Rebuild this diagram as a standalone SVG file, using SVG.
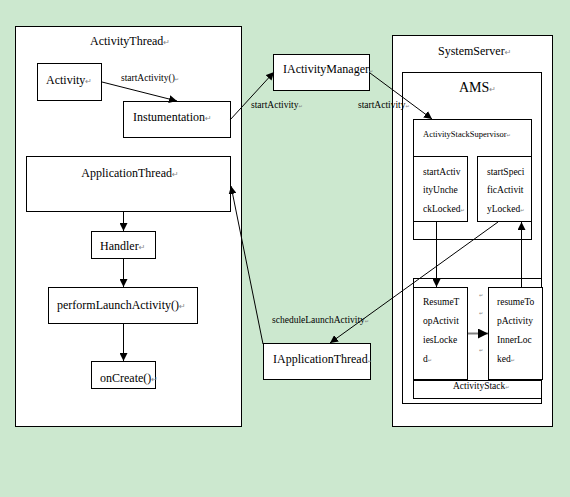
<svg xmlns="http://www.w3.org/2000/svg" width="570" height="497" viewBox="0 0 570 497">
<style>
.box{fill:#fff;stroke:#000;stroke-width:1}
.t{font-family:"Liberation Serif","Times New Roman",serif;font-size:12px;fill:#000}
.s{font-family:"Liberation Serif","Times New Roman",serif;font-size:9.5px;fill:#000}
.m{fill:#888;font-family:"DejaVu Sans",sans-serif;font-size:8px}
.ms{fill:#888;font-family:"DejaVu Sans",sans-serif;font-size:5px}
.ln{stroke:#000;stroke-width:1;fill:none}
</style>
<defs>
<marker id="ah" viewBox="0 0 10 10" refX="10" refY="5" markerWidth="8" markerHeight="8" markerUnits="userSpaceOnUse" orient="auto">
<path d="M0,0 L10,5 L0,10 z" fill="#000"/>
</marker>
<marker id="ahg" viewBox="0 0 10 10" refX="10" refY="5" markerWidth="5" markerHeight="5" orient="auto">
<path d="M0,0 L10,5 L0,10 z" fill="#000"/>
</marker>
</defs>
<rect x="0" y="0" width="570" height="497" fill="#CCE8CF"/>

<g id="activitythread">
<rect class="box" x="15.5" y="26.5" width="226" height="400"/>
<text class="t" x="130" y="45" text-anchor="middle">ActivityThread<tspan class="m">↵</tspan></text>
</g>
<g id="activity">
<rect class="box" x="37.5" y="63.5" width="64" height="37"/>
<text class="t" x="46" y="84">Activity<tspan class="m">↵</tspan></text>
</g>
<g id="instumentation">
<rect class="box" x="123.5" y="101.5" width="107" height="36"/>
<text class="t" x="133" y="121">Instumentation<tspan class="m">↵</tspan></text>
</g>
<g id="applicationthread">
<rect class="box" x="26.5" y="156.5" width="204" height="55"/>
<text class="t" x="130" y="177" text-anchor="middle">ApplicationThread<tspan class="m">↵</tspan></text>
</g>
<g id="handler">
<rect class="box" x="91.5" y="231.5" width="64" height="27"/>
<text class="t" x="100" y="250">Handler<tspan class="m">↵</tspan></text>
</g>
<g id="performlaunch">
<rect class="box" x="48.5" y="287.5" width="149" height="36"/>
<text class="t" x="57" y="309">performLaunchActivity()<tspan class="m">↵</tspan></text>
</g>
<g id="oncreate">
<rect class="box" x="91.5" y="361.5" width="64" height="27"/>
<text class="t" x="100" y="382">onCreate()<tspan class="m">↵</tspan></text>
</g>

<g id="iactivitymanager">
<rect class="box" x="273.5" y="54.5" width="96" height="36"/>
<text class="t" x="283" y="73">IActivityManager<tspan class="ms">↵</tspan></text>
</g>
<g id="iapplicationthread">
<rect class="box" x="263.5" y="343.5" width="107" height="36"/>
<text class="t" x="273" y="363">IApplicationThread<tspan class="ms">↵</tspan></text>
</g>

<g id="systemserver">
<rect class="box" x="392.5" y="35.5" width="160" height="391"/>
<text class="t" x="438" y="55">SystemServer<tspan class="m">↵</tspan></text>
</g>
<g id="ams">
<rect class="box" x="402.5" y="72.5" width="139" height="331"/>
<text class="t" x="459" y="92" style="font-size:14px">AMS<tspan class="m">↵</tspan></text>
</g>
<g id="activitystacksupervisor">
<rect class="box" x="413.5" y="119.5" width="118" height="120"/>
<text class="s" x="423" y="137" style="font-size:8.5px">ActivityStackSupervisor<tspan class="ms">↵</tspan></text>
</g>
<g id="startactivityunchecklocked">
<rect class="box" x="413.5" y="156.5" width="54" height="65"/>
<text class="s" x="423" y="175">startActiv</text>
<text class="s" x="423" y="193">ityUnche</text>
<text class="s" x="423" y="212">ckLocked<tspan class="ms">↵</tspan></text>
</g>
<g id="startspecificactivitylocked">
<rect class="box" x="477.5" y="156.5" width="54" height="65"/>
<text class="s" x="487" y="175">startSpeci</text>
<text class="s" x="487" y="193">ficActivit</text>
<text class="s" x="487" y="212">yLocked<tspan class="ms">↵</tspan></text>
</g>
<g id="activitystack">
<rect class="box" x="413.5" y="278.5" width="128" height="120"/>
<line class="ln" x1="413.5" y1="380.5" x2="541.5" y2="380.5"/>
<text class="s" x="453" y="389">ActivityStack<tspan class="ms">↵</tspan></text>
<text class="ms" x="479" y="297">↵</text>
<text class="ms" x="479" y="315">↵</text>
<text class="ms" x="479" y="352">↵</text>
</g>
<g id="resumetopactivitieslocked">
<rect class="box" x="413.5" y="287.5" width="54" height="92"/>
<text class="s" x="423" y="305">ResumeT</text>
<text class="s" x="423" y="324">opActivit</text>
<text class="s" x="423" y="343">iesLocke</text>
<text class="s" x="423" y="362">d<tspan class="ms">↵</tspan></text>
</g>
<g id="resumetopactivityinnerlocked">
<rect class="box" x="488.5" y="287.5" width="54" height="92"/>
<text class="s" x="497" y="305">resumeTo</text>
<text class="s" x="497" y="324">pActivity</text>
<text class="s" x="497" y="343">InnerLoc</text>
<text class="s" x="497" y="362">ked<tspan class="ms">↵</tspan></text>
</g>

<g id="connectors">
<line class="ln" x1="102" y1="82" x2="177" y2="101" marker-end="url(#ah)"/>
<text class="s" x="121" y="81">startActivity()<tspan class="ms">↵</tspan></text>
<line class="ln" x1="230" y1="120" x2="274" y2="72" marker-end="url(#ah)"/>
<text class="s" x="251" y="108">startActivity<tspan class="ms">↵</tspan></text>
<line class="ln" x1="370" y1="73" x2="432" y2="119" marker-end="url(#ah)"/>
<text class="s" x="358" y="108">startActivity<tspan class="ms">↵</tspan></text>
<line class="ln" x1="123.5" y1="212" x2="123.5" y2="231" marker-end="url(#ah)"/>
<line class="ln" x1="123.5" y1="259" x2="123.5" y2="287" marker-end="url(#ah)"/>
<line class="ln" x1="123.5" y1="324" x2="123.5" y2="361" marker-end="url(#ah)"/>
<line class="ln" x1="436.5" y1="222" x2="436.5" y2="287" marker-end="url(#ah)"/>
<line class="ln" x1="521.5" y1="287" x2="521.5" y2="222" marker-end="url(#ah)"/>
<line x1="468" y1="333.5" x2="488" y2="333.5" stroke="#808080" stroke-width="2" marker-end="url(#ahg)"/>
<line class="ln" x1="498" y1="222" x2="330" y2="343" marker-end="url(#ah)"/>
<text class="s" x="272" y="323">scheduleLaunchActivity<tspan class="ms">↵</tspan></text>
<line class="ln" x1="263" y1="344" x2="231" y2="186" marker-end="url(#ah)"/>
</g>
</svg>
